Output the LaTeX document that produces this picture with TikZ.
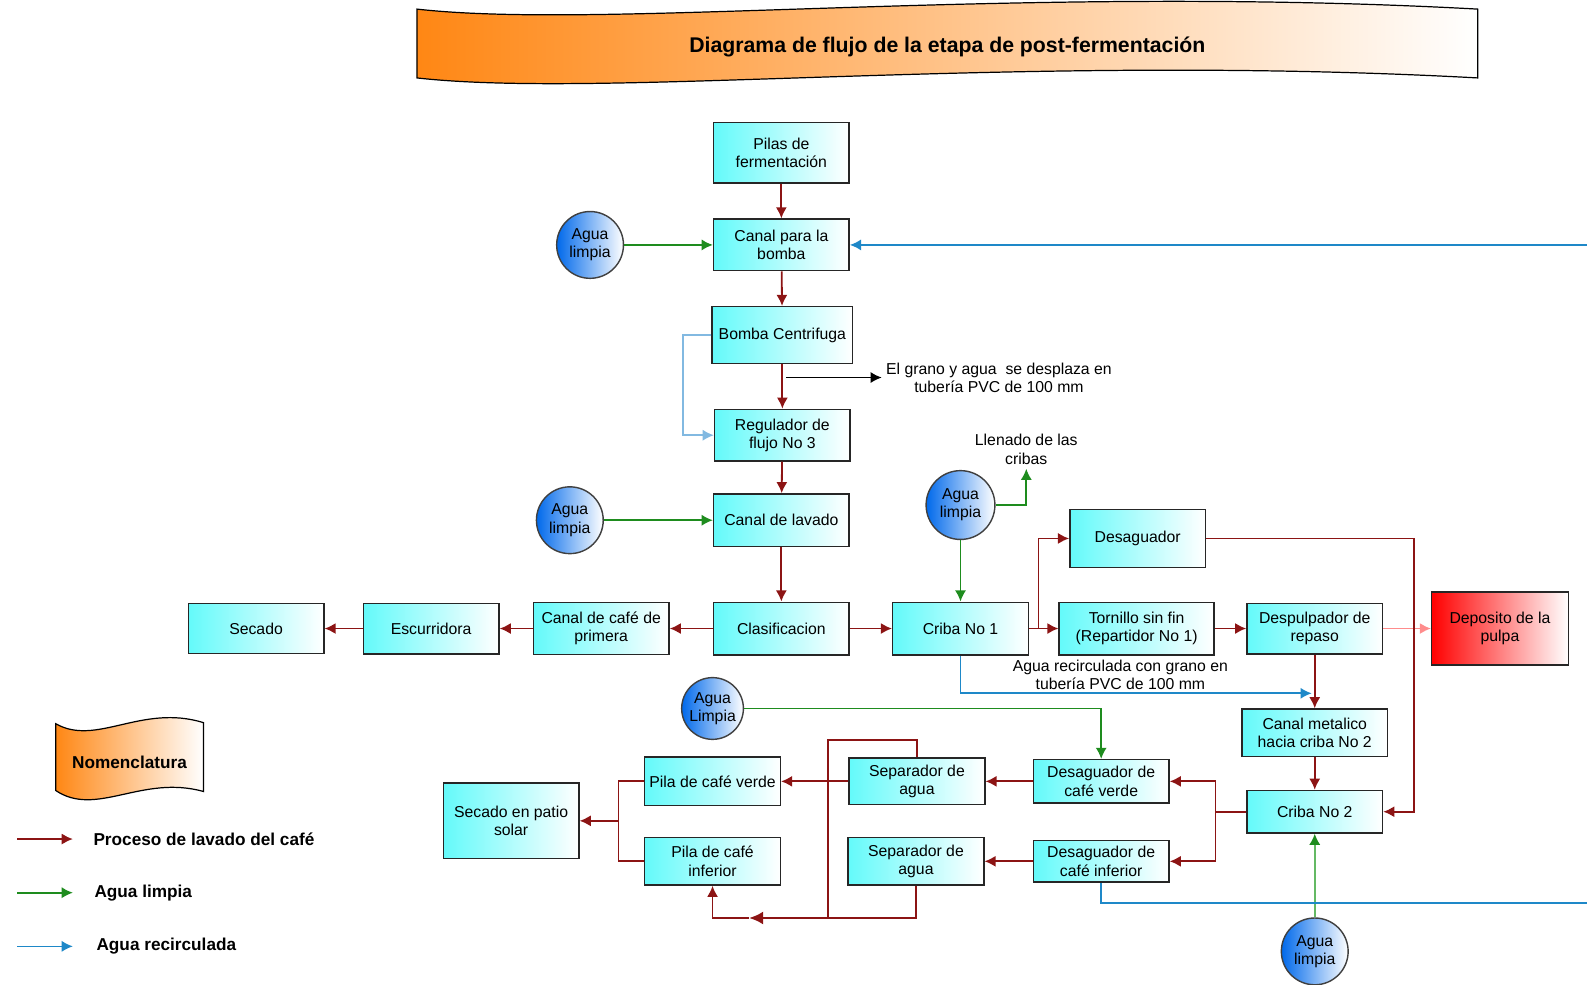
\documentclass[tikz,border=0pt]{standalone}
\usepackage{fontspec}
\setmainfont{Liberation Sans}
\usetikzlibrary{arrows.meta}
\definecolor{cian}{RGB}{100,250,250}
\definecolor{azulbola}{RGB}{0,105,235}
\definecolor{naranja}{RGB}{255,135,20}
\definecolor{rojo}{RGB}{140,20,20}
\definecolor{verde}{RGB}{30,140,30}
\definecolor{verdeclaro}{RGB}{100,185,100}
\definecolor{azul}{RGB}{30,136,200}
\definecolor{azulclaro}{RGB}{130,185,225}
\definecolor{rosa}{RGB}{255,140,140}
\tikzset{
	caja/.style={draw=black!85, line width=0.7pt, left color=cian, right color=white, minimum width=67pt, minimum height=25.5pt, inner sep=1pt, align=center, font=\fontsize{7.8}{9}\selectfont},
	bola/.style={circle, draw=black!75, line width=0.7pt, left color=azulbola, right color=white, minimum size=33pt, inner sep=0pt, align=center, font=\fontsize{7.8}{9}\selectfont},
	texto/.style={align=center, inner sep=2pt, font=\fontsize{7.8}{9}\selectfont},
	leyenda/.style={anchor=west, inner sep=0pt, font=\bfseries\fontsize{8.5}{10}\selectfont},
	proceso/.style={draw=rojo, line width=0.9pt, -{Latex[length=5.5pt,width=5.5pt]}},
	limpia/.style={draw=verde, line width=0.8pt, -{Latex[length=5.5pt,width=5.5pt]}},
	recirc/.style={draw=azul, line width=0.8pt, -{Latex[length=5.5pt,width=5.5pt]}},
	flecha/.style={draw=black, line width=0.7pt, -{Latex[length=5.5pt,width=5.5pt]}}
}
\begin{document}
\begin{tikzpicture}[x=0.5pt,y=-0.5pt]
	\useasboundingbox (0,0) rectangle (1568,973);
	% titulo
	\draw[line width=0.6pt, left color=naranja, right color=white] (412,9) .. controls (600,30) and (1000,-16) .. (1460,9) -- (1460,77) .. controls (1000,52) and (600,98) .. (412,77) -- cycle;
	\node[font=\bfseries\fontsize{10.5}{12}\selectfont] (titulo) at (936,46) {Diagrama de flujo de la etapa de post-fermentación};

	% cajas
	\node[caja, minimum height=30pt] (pilas) at (772,151) {Pilas de\\fermentación};
	\node[caja] (canal) at (772,242) {Canal para la\\bomba};
	\node[caja, minimum width=69.5pt, minimum height=28pt] (bomba) at (773,331) {Bomba Centrifuga};
	\node[caja] (regulador) at (773,430) {Regulador de\\flujo No 3};
	\node[caja, minimum height=26pt] (lavado) at (772,514) {Canal de lavado};
	\node[caja, minimum height=26pt] (clasif) at (772,621) {Clasificacion};
	\node[caja] (primera) at (594,621) {Canal de café de\\primera};
	\node[caja, minimum height=25pt] (escurr) at (426,621) {Escurridora};
	\node[caja, minimum height=24.5pt] (secado) at (253,621) {Secado};
	\node[caja, minimum height=26pt] (criba1) at (949,621) {Criba No 1};
	\node[caja, minimum height=28.5pt] (desag) at (1124,532) {Desaguador};
	\node[caja, minimum width=76.5pt, minimum height=26pt] (tornillo) at (1123,621) {Tornillo sin fin\\(Repartidor No 1)};
	\node[caja, minimum height=25pt] (despulp) at (1299,621) {Despulpador de\\repaso};
	\node[caja, left color=red, minimum width=67.5pt, minimum height=36pt] (deposito) at (1482,621) {Deposito de la\\pulpa};
	\node[caja, minimum width=72pt, minimum height=23.5pt] (metalico) at (1299,724) {Canal metalico\\hacia criba No 2};
	\node[caja, minimum height=21pt] (criba2) at (1299,802) {Criba No 2};
	\node[caja, minimum height=21.5pt] (desverde) at (1088,772) {Desaguador de\\café verde};
	\node[caja, minimum height=20.5pt] (desinf) at (1088,851) {Desaguador de\\café inferior};
	\node[caja, minimum height=23pt] (sep1) at (906,772) {Separador de\\agua};
	\node[caja, minimum height=23.5pt] (sep2) at (905,851) {Separador de\\agua};
	\node[caja, minimum height=24pt] (pilaverde) at (704,772) {Pila de café verde};
	\node[caja, minimum height=23.5pt] (pilainf) at (704,851) {Pila de café\\inferior};
	\node[caja, minimum height=37.5pt] (patio) at (505,811) {Secado en patio\\solar};

	% agua limpia
	\node[bola] (agua1) at (583,242) {Agua\\limpia};
	\node[bola] (agua2) at (563,514) {Agua\\limpia};
	\node[bola, minimum size=34pt] (agua3) at (949,499) {Agua\\limpia};
	\node[bola, minimum size=30.5pt] (agua4) at (704,700) {Agua\\Limpia};
	\node[bola] (agua5) at (1299,940) {Agua\\limpia};

	% textos
	\node[texto] (llenado) at (1014,444) {Llenado de las\\cribas};
	\node[texto] (grano) at (987,373) {El grano y agua\ \ se desplaza en\\tubería PVC de 100 mm};
	\node[texto] (recirtxt) at (1107,667) {Agua recirculada con grano en\\tubería PVC de 100 mm};

	\coordinate (rama) at (1026,621);
	\coordinate (esq) at (1397,532);
	\coordinate (ramab) at (1201,802);
	\coordinate (arriba) at (818,731);
	\coordinate (cruce) at (818,907);
	\coordinate (medio) at (740,907);
	\coordinate (ramac) at (611,811);
	\coordinate (bordea) at (1568,242);
	\coordinate (bordeb) at (1568,892);
	\coordinate (llegada) at (1296,685);
	\coordinate (g1) at (777,373);

	% proceso de lavado
	\draw[proceso] (pilas) -- (canal);
	\draw[proceso] (canal) -- (bomba);
	\draw[proceso] (bomba) -- (regulador);
	\draw[proceso] (regulador) -- (lavado);
	\draw[proceso] (lavado) -- (clasif);
	\draw[proceso] (clasif) -- (primera);
	\draw[proceso] (primera) -- (escurr);
	\draw[proceso] (escurr) -- (secado);
	\draw[proceso] (clasif) -- (criba1);
	\draw[proceso] (criba1) -- (tornillo);
	\draw[proceso] (rama) |- (desag);
	\draw[proceso] (tornillo) -- (despulp);
	\draw[proceso, draw=rosa] (despulp) -- (deposito);
	\draw[proceso] (despulp) -- (metalico);
	\draw[proceso] (desag.east) -- (esq) |- (criba2.east);
	\draw[proceso] (metalico) -- (criba2);
	\draw[proceso, -] (criba2.west) -- (ramab);
	\draw[proceso] (ramab) |- (desverde.east);
	\draw[proceso] (ramab) |- (desinf.east);
	\draw[proceso] (desverde) -- (sep1);
	\draw[proceso] (desinf) -- (sep2);
	\draw[proceso] (sep1) -- (pilaverde);
	\draw[proceso, -] (sep1.north) |- (arriba) -- (cruce);
	\draw[proceso, -] (sep2.south) |- (cruce);
	\draw[proceso, line width=1.4pt, -{Latex[length=7pt,width=6.5pt]}] (cruce) -- (medio);
	\draw[proceso] (medio) -| (pilainf.south);
	\draw[proceso, -] (pilaverde.west) -| (ramac);
	\draw[proceso, -] (pilainf.west) -| (ramac);
	\draw[proceso] (ramac) -- (patio.east);

	% agua limpia
	\draw[limpia] (agua1) -- (canal);
	\draw[limpia] (agua2) -- (lavado);
	\draw[limpia] (agua3) -- (criba1);
	\draw[limpia] (agua3.east) -| (llenado.south);
	\draw[limpia] (agua4.east) -| (desverde.north);
	\draw[limpia, draw=verdeclaro, -{Latex[length=5.5pt,width=5.5pt,color=verde]}] (agua5) -- (criba2);

	% agua recirculada
	\draw[recirc] (bordea) -- (canal.east);
	\draw[recirc, draw=azulclaro] (bomba.west) -- ++(-28,0) |- (regulador.west);
	\draw[recirc] (criba1.south) |- (llegada);
	\draw[recirc, -] (desinf.south) |- (bordeb);

	\draw[flecha] (g1) -- (grano.west);

	% nomenclatura
	\draw[line width=0.6pt, left color=naranja, right color=white] (55,715) .. controls (95,738) and (140,695) .. (201,714) -- (201,782) .. controls (140,765) and (95,808) .. (55,781) -- cycle;
	\node[font=\bfseries\fontsize{8.5}{10}\selectfont] (nomen) at (128,753) {Nomenclatura};
	\node[leyenda] (ley1) at (92,829) {Proceso de lavado del café};
	\node[leyenda] (ley2) at (93,882) {Agua limpia};
	\node[leyenda] (ley3) at (95,935) {Agua recirculada};
	\coordinate (l1) at (17,829);
	\coordinate (l2) at (17,882);
	\coordinate (l3) at (17,935);
	\draw[proceso] (l1) -- ++(55,0);
	\draw[limpia] (l2) -- ++(55,0);
	\draw[recirc] (l3) -- ++(55,0);
\end{tikzpicture}
\end{document}
